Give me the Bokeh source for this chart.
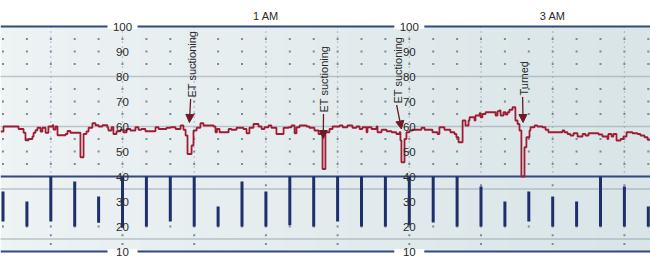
import numpy as np
from bokeh.plotting import figure
from bokeh.models import Arrow, NormalHead, Range1d
from bokeh.core.properties import value
from bokeh.embed import file_html
from bokeh.resources import INLINE

# ---- data (time in minutes after midnight) ----
trace_t = [-51.0, -49.8, -43.5, -41.4, -40.6, -39.3, -37.7, -37.2, -36.4, -35.6, -34.3, -33.5, -32.2, -31.0,
           -29.3, -28.9, -28.0, -27.2, -23.8, -23.0, -21.8, -17.6, -16.3, -15.1, -14.2, -12.6, -11.3, -10.0,
           -8.4, -6.3, -5.9, -4.6, -3.8, -2.5, -0.8, 0.4, 1.7, 3.3, 5.4, 6.7, 7.9, 9.6, 13.8, 15.1, 18.4,
           20.1, 22.2, 24.3, 25.5, 26.4, 27.2, 28.9, 29.7, 31.0, 32.6, 33.9, 38.1, 38.9, 39.5, 40.6, 44.4,
           45.6, 47.7, 50.6, 51.9, 53.1, 54.8, 56.9, 58.2, 59.4, 61.1, 62.3, 64.4, 67.4, 69.5, 70.7, 72.0,
           72.8, 74.1, 77.0, 78.2, 80.3, 82.0, 83.7, 84.9, 86.6, 87.9, 90.8, 92.1, 94.1, 96.2, 97.9, 99.2,
           100.4, 102.1, 102.5, 104.2, 106.3, 106.7, 108.4, 110.5, 112.6, 114.6, 115.9, 116.3, 116.7, 118.0,
           118.8, 120.1, 121.3, 125.1, 126.4, 129.7, 131.8, 132.6, 134.7, 137.2, 138.9, 139.7, 140.6, 142.3,
           143.5, 144.8, 145.2, 147.3, 147.7, 149.4, 149.8, 150.6, 151.9, 156.1, 156.9, 157.7, 158.2, 159.4,
           160.3, 161.1, 161.9, 163.2, 164.4, 165.3, 166.1, 166.9, 168.2, 169.0, 170.3, 170.7, 172.4, 173.6,
           175.7, 177.0, 178.2, 184.1, 184.9, 186.2, 187.4, 188.7, 190.4, 192.5, 193.7, 195.0, 199.2, 200.8,
           202.9, 203.3, 204.6, 205.4, 206.7, 208.4, 209.6, 210.9, 213.4, 215.5, 216.7, 218.4, 219.7, 221.0]
trace_v = [58.0, 60.0, 59.0, 57.5, 54.5, 55.0, 56.0, 57.5, 58.5, 59.5, 58.0, 59.5, 57.5, 60.0,
           60.5, 58.8, 60.0, 56.5, 57.0, 58.2, 57.5, 47.7, 57.0, 58.0, 59.5, 61.3, 60.5, 60.0,
           60.5, 59.5, 58.4, 59.7, 57.0, 58.1, 58.7, 57.7, 59.0, 58.4, 59.7, 58.7, 59.0, 58.1, 59.7, 59.0, 59.5,
           59.7, 59.0, 60.4, 58.7, 56.4, 49.0, 52.4, 58.4, 59.5, 61.3, 60.4, 60.0, 57.7, 59.0, 57.7, 59.0,
           58.7, 59.5, 59.0, 57.3, 59.5, 61.0, 60.0, 59.0, 59.7, 60.4, 59.5, 57.0, 59.5, 59.7, 60.4, 57.3,
           59.7, 60.4, 60.0, 59.5, 58.4, 57.0, 43.0, 57.7, 59.0, 60.0, 60.4, 59.7, 60.4, 59.5, 60.0, 59.0,
           59.7, 57.7, 59.7, 59.0, 60.0, 57.7, 58.7, 58.1, 57.7, 57.0, 57.7, 54.4, 45.7, 55.0,
           57.7, 58.4, 58.7, 59.5, 58.7, 57.7, 57.0, 59.7, 58.7, 57.7, 57.0, 55.7, 53.7, 62.4,
           60.4, 62.4, 63.7, 62.4, 64.4, 65.3, 63.7, 65.0, 65.7, 64.4, 66.1, 66.4, 64.4, 65.7,
           64.8, 65.7, 66.7, 67.7, 62.4, 61.0, 58.4, 40.0, 51.7, 55.7, 58.4, 59.7, 60.4, 60.0,
           59.7, 58.7, 57.7, 58.4, 57.7, 57.0, 56.4, 57.3, 56.0, 57.0, 56.4, 57.3, 56.8, 56.0,
           55.0, 57.0, 56.0, 57.0, 54.4, 55.0, 56.0, 57.7, 57.3, 57.0, 56.4, 55.7, 54.7, 54.7]

bar_t = list(range(-50, 221, 10))
bar_top = [34, 30, 40, 38, 32, 40, 40, 40, 40, 28, 38, 34, 40, 40, 40, 40, 40, 40,
           40, 40, 36, 30, 34, 32, 30, 40, 36, 28]
bar_bottom = [22, 20, 22, 20, 21.5, 19.5, 20, 22, 20, 20, 20, 20, 20.5, 20, 22, 20, 20, 20.5,
              21.6, 20, 20, 20, 22, 20, 20, 20, 20, 20]

scale_ticks = [100, 90, 80, 70, 60, 50, 40, 30, 20, 10]
scale_cols = [0, 120]
solid_levels = [100, 40, 10]
dotted_levels = [80, 60, 35, 15]
dot_levels = [95, 90, 85, 75, 70, 65, 55, 50, 45, 20]
half_hour_dot_levels = [36.5, 16.5, 13]

hour_labels = ["1 AM", "3 AM"]
hour_t = [60, 180]

events = ["ET suctioning", "ET suctioning", "ET suctioning", "Turned"]
event_text_t = [28.9, 84.5, 115.1, 167.8]
event_text_v = [71.6, 65.6, 69.2, 72.4]
event_tip_t = [28.0, 84.0, 116.7, 167.6]
event_tip_v = [61.6, 55.2, 59.0, 61.6]

T0, T1 = -51.05, 220.92
V0, V1 = 7.2, 110.4

p = figure(width=650, height=258, x_range=Range1d(T0, T1), y_range=Range1d(V0, V1),
           output_backend="svg", toolbar_location=None, min_border=0,
           background_fill_color="white", border_fill_color="white")
p.axis.visible = False
p.grid.visible = False
p.outline_line_color = None

# background gradient band between 10 and 100
n = 60
edges = np.linspace(T0, T1, n + 1)
c0 = np.array([238, 243, 244])
c1 = np.array([217, 229, 231])
cols = []
for i in range(n):
    f = i / (n - 1)
    c = (c0 + (c1 - c0) * f).astype(int)
    cols.append("#%02x%02x%02x" % tuple(c))
step = edges[1] - edges[0]
p.quad(left=edges[:-1], right=edges[1:] + step * 0.6, bottom=10, top=100,
       fill_color=cols, line_color=None)

# dot grid every 10 minutes
dx, dy = [], []
for t in bar_t:
    for v in dot_levels:
        dx.append(t); dy.append(v)
p.scatter(dx, dy, size=2, marker="square", color="#7d8b97", line_color=None)

# half-hour dotted verticals
hh = [t for t in bar_t if t % 30 == 0]
p.segment(x0=hh, y0=[100] * len(hh), x1=hh, y1=[41] * len(hh), line_color="#8896a2",
          line_width=1.2, line_dash="1 4")
hx, hy = [], []
for t in hh:
    for v in half_hour_dot_levels:
        hx.append(t); hy.append(v)
p.scatter(hx, hy, size=2, marker="square", color="#7d8b97", line_color=None)

# dotted horizontal lines
for v in dotted_levels:
    p.line([T0, T1], [v, v], line_color="#8696a3", line_width=1.5, line_dash="1 1")

# solid horizontal lines
for v in solid_levels:
    p.line([T0, T1], [v, v], line_color="#34497c", line_width=2)

# gaps in the top and bottom lines behind labels
gx = [c for c in scale_cols for _ in (0, 1)]
gy = [v for _ in scale_cols for v in (100, 10)]
p.rect(x=gx, y=gy, width=30, height=5, width_units="screen", height_units="screen",
       fill_color="white", line_color=None)

# bars
p.segment(x0=bar_t, y0=bar_bottom, x1=bar_t, y1=bar_top, line_color="#1e2f6e", line_width=3)

# trace
p.step(trace_t, trace_v, mode="after", line_color="#a01c34", line_width=1.8)

# scale labels
lx = [c for c in scale_cols for _ in scale_ticks]
ly = [v for _ in scale_cols for v in scale_ticks]
p.text(x=lx, y=ly, text=[str(v) for v in ly], text_align="center", text_baseline="middle",
       text_font=value("Liberation Sans"), text_font_size="11.5px", text_color="#2a2a2a")

# hour labels
p.text(x=hour_t, y=[104.4] * 2, text=hour_labels, text_align="center", text_baseline="middle",
       text_font=value("Liberation Sans"), text_font_size="11px", text_color="#2a2a2a")

# events
p.text(x=event_text_t, y=event_text_v, text=events, angle=np.pi / 2, text_align="left",
       text_baseline="middle", text_font=value("Liberation Sans"), text_font_size="11px",
       text_color="#2a2a2a")
for i in range(len(events)):
    p.add_layout(Arrow(end=NormalHead(size=8, fill_color="#6e1a28", line_color="#6e1a28", line_width=1),
                       x_start=event_text_t[i] - 0.4, y_start=event_text_v[i] - 0.6,
                       x_end=event_tip_t[i], y_end=event_tip_v[i],
                       line_color="#6e1a28", line_width=1.3))

open("out.html", "w").write(file_html(p, INLINE))
